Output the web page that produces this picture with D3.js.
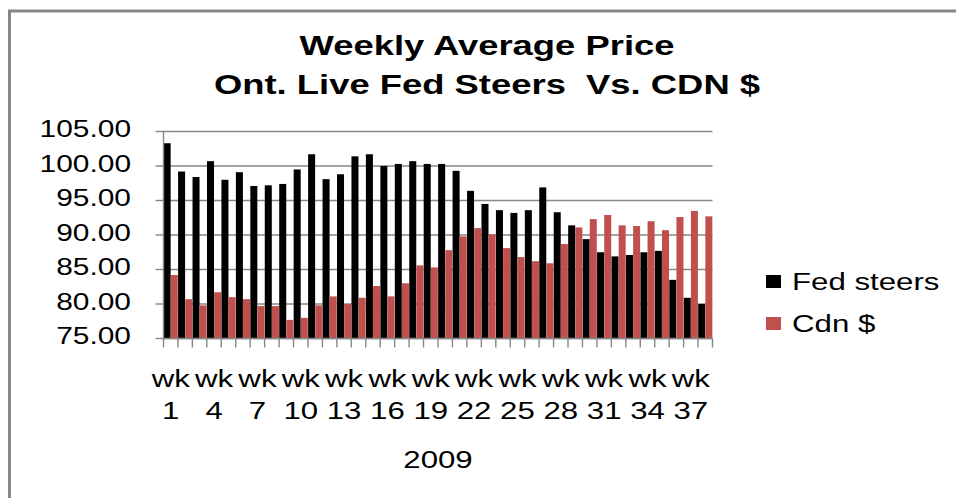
<!DOCTYPE html>
<html>
<head>
<meta charset="utf-8">
<script src="https://cdn.jsdelivr.net/npm/d3@7"></script>
<style>
  body { margin: 0; background: #fff; }
  text { font-family: "Liberation Sans", Arial, sans-serif; fill: #000; white-space: pre; }
</style>
</head>
<body>
<div id="chart"></div>
<script>
// weekly data, 2009
const weeks = d3.range(1, 39).map(d => "wk " + d);
const fedSteers = [103.3, 99.2, 98.4, 100.7, 98.0, 99.1, 97.1, 97.2, 97.4, 99.5,
  101.7, 98.1, 98.8, 101.4, 101.7, 100.0, 100.3, 100.7, 100.3, 100.3,
  99.3, 96.4, 94.5, 93.6, 93.2, 93.6, 96.9, 93.3, 91.4, 89.4,
  87.5, 86.9, 87.1, 87.5, 87.7, 83.5, 80.9, 80.0];
const cdnDollar = [84.2, 80.7, 79.8, 81.7, 81.0, 80.7, 79.7, 79.7, 77.7, 78.0,
  79.8, 81.1, 80.0, 80.9, 82.6, 81.1, 83.0, 85.6, 85.3, 87.8,
  89.8, 91.0, 90.1, 88.1, 86.8, 86.2, 85.9, 88.7, 91.1, 92.3,
  92.9, 91.4, 91.3, 92.0, 90.7, 92.6, 93.5, 92.7];
const yTicks = [75, 80, 85, 90, 95, 100, 105];
const seriesNames = ["Fed steers", "Cdn $"];
const colors = ["#000000", "#C0504D"];
const xLabelYear = "2009";
const titleLines = ["Weekly Average Price", "Ont. Live Fed Steers  Vs. CDN $"];

const width = 956, height = 498;
const stretch = 1.3; // text in the picture is wider than normal
const plot = { left: 163.5, right: 712.5, top: 131.5, bottom: 338.5 };
const gridColor = "#878787";

const svg = d3.select("#chart").append("svg")
  .attr("width", width)
  .attr("height", height);

// outer frame (only top and left are visible)
svg.append("path")
  .attr("d", `M9.5,${height} V11 H${width}`)
  .attr("fill", "none")
  .attr("stroke", gridColor)
  .attr("stroke-width", 3);

function label(x, y, str, size, anchor, weight) {
  return svg.append("text")
    .attr("transform", `translate(${x},${y}) scale(${stretch},1)`)
    .attr("text-anchor", anchor || "middle")
    .attr("font-size", size)
    .attr("font-weight", weight || "normal")
    .text(str);
}

// title
label(487, 55, titleLines[0], 28, "middle", "bold");
label(487, 94, titleLines[1], 28, "middle", "bold");

const x = d3.scaleBand().domain(weeks).range([plot.left, plot.right]).padding(0);
const xInner = d3.scaleBand().domain(seriesNames).range([0, x.bandwidth()]).paddingInner(0.02).paddingOuter(0.02);
const y = d3.scaleLinear().domain([75, 105]).range([plot.bottom, plot.top]);

// gridlines
svg.append("g").selectAll("line")
  .data(yTicks)
  .enter().append("line")
  .attr("x1", plot.left).attr("x2", plot.right)
  .attr("y1", d => y(d)).attr("y2", d => y(d))
  .attr("stroke", gridColor)
  .attr("stroke-width", 1.4);

// bars
const series = [fedSteers, cdnDollar];
series.forEach((vals, si) => {
  svg.append("g").selectAll("rect")
    .data(vals)
    .enter().append("rect")
    .attr("x", (d, i) => x(weeks[i]) + xInner(seriesNames[si]))
    .attr("width", xInner.bandwidth())
    .attr("y", d => y(d))
    .attr("height", d => y(75) - y(d))
    .attr("fill", colors[si]);
});

// y axis
svg.append("line")
  .attr("x1", plot.left).attr("x2", plot.left)
  .attr("y1", plot.top).attr("y2", plot.bottom)
  .attr("stroke", gridColor).attr("stroke-width", 1.4);
svg.append("g").selectAll("line")
  .data(yTicks)
  .enter().append("line")
  .attr("x1", plot.left - 8).attr("x2", plot.left)
  .attr("y1", d => y(d)).attr("y2", d => y(d))
  .attr("stroke", gridColor).attr("stroke-width", 1.4);
yTicks.forEach(t => label(131, y(t) + 5.5, d3.format(".2f")(t), 23, "end"));

// x axis
svg.append("line")
  .attr("x1", plot.left).attr("x2", plot.right)
  .attr("y1", plot.bottom).attr("y2", plot.bottom)
  .attr("stroke", gridColor).attr("stroke-width", 1.4);
const bounds = weeks.map(w => x(w)).concat([plot.right]);
svg.append("g").selectAll("line")
  .data(bounds)
  .enter().append("line")
  .attr("x1", d => d).attr("x2", d => d)
  .attr("y1", plot.bottom).attr("y2", plot.bottom + 9)
  .attr("stroke", gridColor).attr("stroke-width", 1.4);

weeks.forEach((w, i) => {
  if (i % 3 !== 0) return;
  const cx = x(w) + x.bandwidth() / 2;
  const parts = w.split(" ");
  label(cx, 387, parts[0], 24);
  label(cx, 419, parts[1], 24);
});
label((plot.left + plot.right) / 2, 468, xLabelYear, 24);

// legend
seriesNames.forEach((name, i) => {
  const ly = 282 + i * 42;
  svg.append("rect")
    .attr("x", 766).attr("y", ly - 7)
    .attr("width", 15).attr("height", 13)
    .attr("fill", colors[i]);
  label(792, ly + 8, name, 24, "start");
});
</script>
</body>
</html>
